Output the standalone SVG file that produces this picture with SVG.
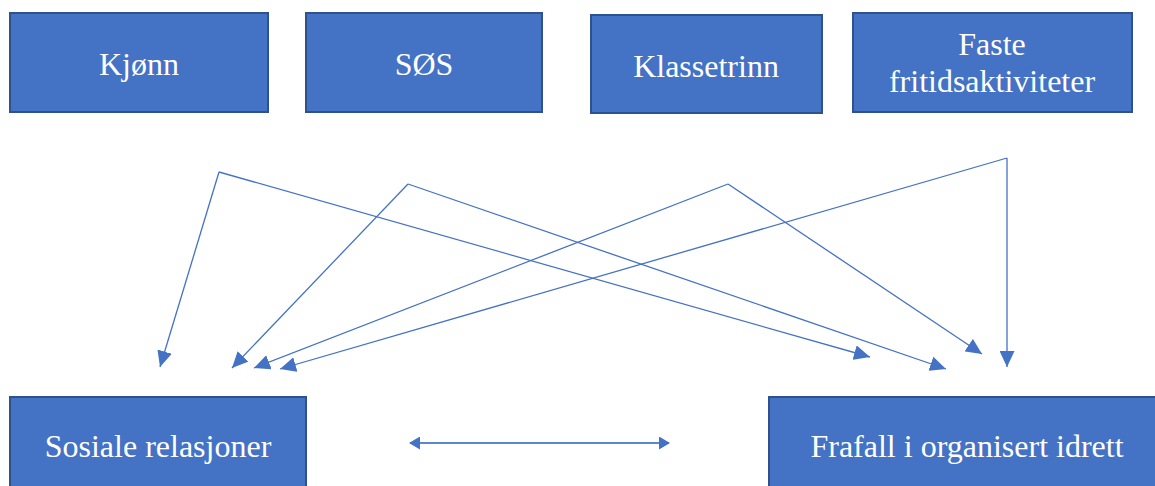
<svg xmlns="http://www.w3.org/2000/svg" width="1155" height="486" viewBox="0 0 1155 486">
<style>
.box{fill:#4472C4;stroke:#2F528F;stroke-width:2}
.lbl{font-family:'Liberation Serif','Times New Roman',Times,'DejaVu Serif',serif;font-size:32px;fill:#FFFFFF;text-anchor:middle}
.con{fill:none;stroke:#4472C4;stroke-width:1.3}
.dbl{fill:none;stroke:#5B87CF;stroke-width:2.2}
</style>
<defs>
<marker id="ah" markerUnits="userSpaceOnUse" markerWidth="16" markerHeight="15" viewBox="0 0 16 15" refX="16" refY="7.5" orient="auto">
<path d="M0,0 L16,7.5 L0,15 z" fill="#4472C4"/>
</marker>
<marker id="ah2" markerUnits="userSpaceOnUse" markerWidth="11" markerHeight="13" viewBox="0 0 11 13" refX="10" refY="6.5" orient="auto-start-reverse">
<path d="M0,0 L11,6.5 L0,13 z" fill="#4472C4"/>
</marker>
</defs>
<rect width="1155" height="486" fill="#FFFFFF"/>
<g id="kjonn"><rect class="box" x="10" y="13" width="258" height="99"/><text class="lbl" x="139" y="75">Kjønn</text></g>
<g id="sos"><rect class="box" x="306" y="13" width="236" height="99"/><text class="lbl" x="424" y="75">SØS</text></g>
<g id="klassetrinn"><rect class="box" x="591" y="15" width="231" height="98"/><text class="lbl" x="706" y="77">Klassetrinn</text></g>
<g id="faste"><rect class="box" x="853" y="13" width="279" height="99"/><text class="lbl" x="992" y="55">Faste</text><text class="lbl" x="992" y="92">fritidsaktiviteter</text></g>
<g id="sosiale"><rect class="box" x="10" y="397" width="296" height="100"/><text class="lbl" x="158" y="457">Sosiale relasjoner</text></g>
<g id="frafall"><rect class="box" x="769" y="397" width="400" height="100"/><text class="lbl" x="967" y="457">Frafall i organisert idrett</text></g>
<g id="connectors">
<polyline class="con" points="219,172 160,367" marker-end="url(#ah)"/>
<polyline class="con" points="219,172 870,357" marker-end="url(#ah)"/>
<polyline class="con" points="408,184 232,368" marker-end="url(#ah)"/>
<polyline class="con" points="408,184 946,369" marker-end="url(#ah)"/>
<polyline class="con" points="728,184 254,368" marker-end="url(#ah)"/>
<polyline class="con" points="728,184 982,354" marker-end="url(#ah)"/>
<polyline class="con" points="1007,158 280,369" marker-end="url(#ah)"/>
<polyline class="con" points="1007,158 1007,367" marker-end="url(#ah)"/>
<line class="dbl" x1="410" y1="443" x2="669" y2="443" marker-start="url(#ah2)" marker-end="url(#ah2)"/>
</g>
</svg>
